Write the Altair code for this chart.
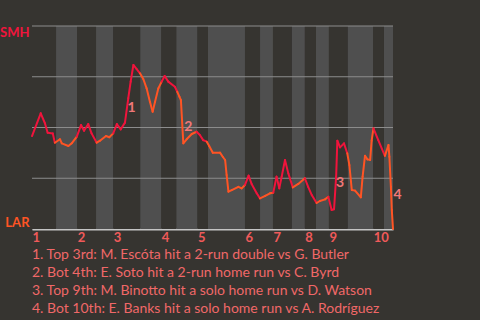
import altair as alt
import pandas as pd

# ---- data ----
# play index (0..120) and SMH win probability (%)
play = [0, 2.9, 4.3, 5.2, 6.9, 7.6, 9.3, 9.9, 12.1, 13.2, 14.9, 16.3, 17.3, 18.7, 19.8,
        21.5, 22.6, 24.6, 25.7, 27.0, 28.2, 29.5, 30.9, 32.0, 32.8, 33.7, 34.8, 35.9, 37.0,
        38.1, 39.2, 40.1, 40.9, 42.0, 43.1, 44.1, 45.3, 47.5, 48.3, 49.0, 49.5, 50.3, 51.4,
        53.1, 54.7, 55.8, 56.9, 58.1, 58.9, 60.1, 62.5, 63.4, 64.2, 64.7, 65.3, 66.4, 68.6,
        69.7, 70.8, 72.0, 73.0, 74.7, 75.8, 77.5, 79.1, 80.2, 81.3, 82.2, 83.0, 84.1, 85.2,
        86.7, 88.5, 90.7, 91.8, 93.0, 94.6, 95.7, 97.4, 98.5, 99.6, 100.4, 101.1, 101.5,
        102.4, 103.7, 104.8, 105.5, 106.3, 107.4, 109.3, 109.9, 110.7, 111.5, 112.4, 112.9,
        113.5, 115.1, 117.3, 118.5, 118.8, 119.3, 119.6, 120.0]
wp = [45.8, 57.0, 52.1, 47.4, 47.1, 42.5, 44.2, 42.2, 40.9, 42.2, 45.5, 51.2, 48.4, 51.7,
      47.1, 42.5, 43.5, 45.8, 45.2, 47.1, 51.7, 49.1, 52.4, 64.4, 72.6, 80.8, 78.8, 76.7,
      73.9, 69.3, 62.7, 57.8, 62.7, 69.3, 72.6, 75.4, 72.6, 70.1, 67.6, 65.2, 63.5, 42.2,
      44.2, 46.8, 47.9, 46.3, 43.8, 43.0, 40.9, 37.6, 37.6, 35.6, 34.0, 26.6, 18.4, 19.2,
      20.8, 20.0, 21.7, 26.3, 22.2, 17.6, 15.1, 16.3, 17.6, 17.9, 25.8, 20.0, 25.8, 34.0,
      27.4, 20.5, 22.2, 25.0, 20.8, 16.7, 12.8, 13.8, 14.6, 15.9, 9.4, 9.7, 25.8, 43.5,
      40.2, 42.2, 37.3, 31.5, 19.2, 18.9, 15.6, 25.8, 36.1, 34.3, 34.0, 43.5, 49.6, 43.8,
      36.0, 41.4, 35.6, 20.8, 9.4, 0.0]

# half-inning boundaries (play index): top 1, bot 1, top 2, ...
half_edges = [0, 8, 15, 21.3, 27, 36, 43, 48, 55, 58.5, 70.8, 75.8, 80.1, 86.4,
              90.7, 94.4, 98.7, 105, 113.4, 117, 120]
innings = ["1", "2", "3", "4", "5", "6", "7", "8", "9", "10"]
grid_levels = [25, 50, 75, 100]

event_ids = ["1", "2", "3", "4"]
event_x = [33.1, 52.0, 102.4, 121.5]
event_y = [59.5, 50.1, 22.5, 16.7]

notes = [
    "1. Top 3rd: M. Escóta hit a 2-run double vs G. Butler",
    "2. Bot 4th: E. Soto hit a 2-run home run vs C. Byrd",
    "3. Top 9th: M. Binotto hit a solo home run vs D. Watson",
    "4. Bot 10th: E. Banks hit a solo home run vs A. Rodríguez",
]

RED = "#f0143c"
ORANGE = "#ff5424"
BG = "#363430"
BAND = "#4f4f4f"
FONT = "Lato"

# ---- tables ----
bands = pd.DataFrame({
    "x": half_edges[:-1],
    "x2": half_edges[1:],
    "half": ["top" if i % 2 == 0 else "bot" for i in range(len(half_edges) - 1)],
})


def half_of(x):
    for i in range(len(half_edges) - 1):
        if half_edges[i] <= x < half_edges[i + 1]:
            return i
    return len(half_edges) - 2


rows = []
for i in range(len(play) - 1):
    mid = (play[i] + play[i + 1]) / 2
    team = "SMH" if half_of(mid) % 2 == 0 else "LAR"
    rows.append({"seg": i, "x": play[i], "y": wp[i], "team": team})
    rows.append({"seg": i, "x": play[i + 1], "y": wp[i + 1], "team": team})
segs = pd.DataFrame(rows)

grid = pd.DataFrame({"y": grid_levels})
events = pd.DataFrame({"id": event_ids, "x": event_x, "y": event_y})

inning_starts = half_edges[0:-1:2]
label_expr = "indexof([" + ",".join(str(v) for v in inning_starts) + "], datum.value) + 1"

xscale = alt.Scale(domain=[0, 120], nice=False, zero=False)
yscale = alt.Scale(domain=[0, 100], nice=False)

band_layer = alt.Chart(bands).mark_rect().encode(
    x=alt.X("x:Q", scale=xscale,
            axis=alt.Axis(values=inning_starts, labelExpr=label_expr, title=None,
                          labelAlign="left", labelFontWeight="bold", labelFontSize=13,
                          labelFont=FONT, labelColor="#f05a5a", ticks=False,
                          labelPadding=2, grid=False, domainColor="#c4c4c4",
                          domainWidth=2, labelFlush=False, labelOverlap=False,
                          labelBound=False)),
    x2="x2:Q",
    y=alt.value(0),
    y2=alt.value(203),
    fill=alt.Fill("half:N", scale=alt.Scale(domain=["top", "bot"], range=[BG, BAND]),
                  legend=None),
)

grid_layer = alt.Chart(grid).mark_rule(color="#8c8c8c", strokeWidth=1).encode(
    y=alt.Y("y:Q", scale=yscale,
            axis=alt.Axis(values=[0, 100], title=None, grid=False, ticks=False,
                          labelExpr="datum.value == 100 ? 'SMH' : 'LAR'",
                          labelFlush=True, labelPadding=3, labelFontWeight="bold",
                          labelFontSize=13, labelFont=FONT,
                          labelColor={"condition": {"test": "datum.value > 50", "value": RED},
                                      "value": ORANGE},
                          domainColor="#a8a8a8", domainWidth=1)),
)

line_layer = alt.Chart(segs).mark_line(strokeWidth=2, strokeCap="round").encode(
    x=alt.X("x:Q", scale=xscale),
    y=alt.Y("y:Q", scale=yscale),
    detail="seg:N",
    stroke=alt.Stroke("team:N", scale=alt.Scale(domain=["SMH", "LAR"], range=[RED, ORANGE]),
                      legend=None),
)

event_layer = alt.Chart(events).mark_text(
    font=FONT, fontSize=14, fontWeight="bold", color="#f07878",
    align="center", baseline="middle",
).encode(
    x=alt.X("x:Q", scale=xscale),
    y=alt.Y("y:Q", scale=yscale),
    text="id:N",
)

chart = alt.layer(band_layer, grid_layer, line_layer, event_layer).resolve_scale(
    fill="independent", stroke="independent"
).properties(
    width=361,
    height=203,
    background=BG,
    padding={"left": 32, "top": 26, "right": 87, "bottom": 91},
    autosize=alt.AutoSizeParams(type="none"),
    title=alt.TitleParams(text=notes, orient="bottom", anchor="start", frame="group",
                          font=FONT, fontSize=14, fontWeight="normal", color="#f06868",
                          lineHeight=18, offset=4),
).configure_view(stroke=None)

chart.save("out.html", embed_options={"renderer": "svg", "actions": False})
